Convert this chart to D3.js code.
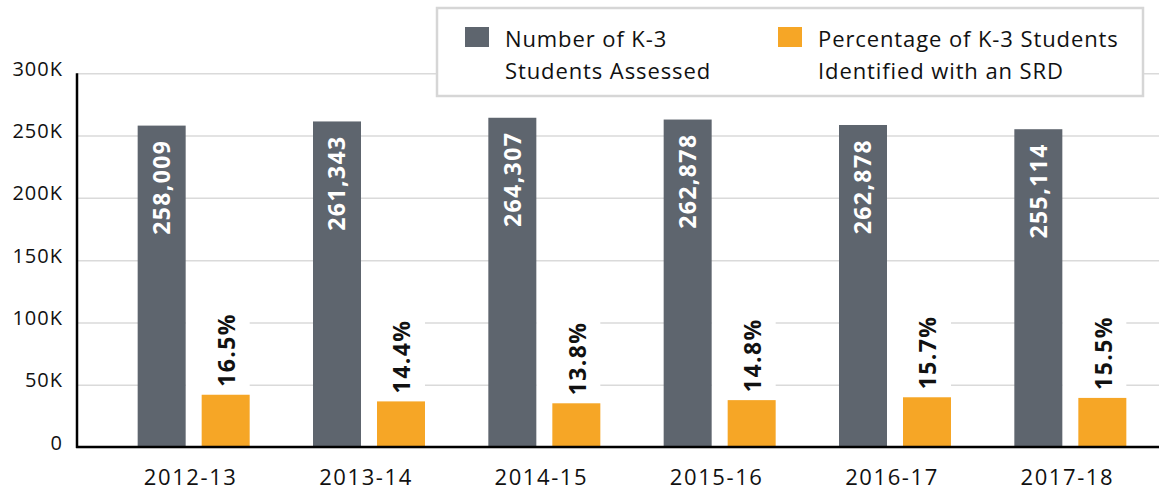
<!DOCTYPE html>
<html>
<head>
<meta charset="utf-8">
<script src="https://cdn.jsdelivr.net/npm/d3@7"></script>
<style>
  body { margin: 0; background: #fff; }
  svg { display: block; font-family: "Open Sans", "Noto Sans", sans-serif; }
</style>
</head>
<body>
<svg width="1159" height="491"></svg>
<script>
const years = ["2012-13", "2013-14", "2014-15", "2015-16", "2016-17", "2017-18"]
// bar heights as drawn; the 2016-17 bar is shorter than its printed label
const assessed = [258009, 261343, 264307, 262878, 258500, 255114]
const assessedLabels = ["258,009", "261,343", "264,307", "262,878", "262,878", "255,114"]
const pctSRD = [16.5, 14.4, 13.8, 14.8, 15.7, 15.5]
const yTicks = [0, 50000, 100000, 150000, 200000, 250000, 300000]
const legendLabels = [
    ["Number of K-3", "Students Assessed"],
    ["Percentage of K-3 Students", "Identified with an SRD"]
]

const GREY = "#5e656e", ORANGE = "#f6a626";

const svg = d3.select("svg"),
    width = +svg.attr("width"),
    height = +svg.attr("height");

const left = 77, baseY = 447, topY = 73.3;

const x0 = d3.scaleBand().domain(years).range([106, 1158]).padding(0);
const x1 = d3.scaleBand().domain(["n", "p"]).range([0, 112]).paddingInner(0.25);
const y = d3.scaleLinear().domain([0, 300000]).range([baseY, topY]);
// percentage bars share the plot area, 1% ~ 2540 students on the left axis
const yPct = d3.scaleLinear().domain([0, 118]).range([baseY, topY]);

// gridlines + y labels
const gy = svg.append("g")
    .attr("transform", `translate(${left},0)`)
    .call(d3.axisLeft(y).tickValues(yTicks).tickSize(-(width - left))
        .tickPadding(14)
        .tickFormat(d => d === 0 ? "0" : d / 1000 + "K"));
gy.select(".domain").remove();
gy.selectAll(".tick line").attr("stroke", "#dadada").attr("stroke-width", 1.5);
gy.selectAll(".tick text")
    .attr("font-family", "Open Sans, sans-serif")
    .attr("font-size", 20)
    .attr("letter-spacing", 1)
    .attr("dy", "0.1em")
    .attr("fill", "#111");

const groups = svg.append("g").selectAll("g")
    .data(years.map((yr, i) => ({yr, n: assessed[i], lab: assessedLabels[i], p: pctSRD[i]})))
    .join("g")
    .attr("transform", d => `translate(${x0(d.yr) + (x0.bandwidth() - 112) / 2},0)`);

// white box behind percentage labels (hides gridlines)
groups.append("rect")
    .attr("x", x1("n") + x1.bandwidth())
    .attr("width", x1("p") - x1("n"))
    .attr("y", d => yPct(d.p) - 86)
    .attr("height", 84)
    .attr("fill", "#fff");

groups.append("rect")
    .attr("x", x1("n"))
    .attr("width", x1.bandwidth())
    .attr("y", d => y(d.n))
    .attr("height", d => baseY - y(d.n))
    .attr("fill", GREY);

groups.append("rect")
    .attr("x", x1("p"))
    .attr("width", x1.bandwidth())
    .attr("y", d => yPct(d.p))
    .attr("height", d => baseY - yPct(d.p))
    .attr("fill", ORANGE);

groups.append("text")
    .attr("transform", d => `translate(${x1("n") + x1.bandwidth() / 2},${y(d.n) + 14}) rotate(-90)`)
    .attr("text-anchor", "end")
    .attr("dy", "0.36em")
    .attr("font-size", 23)
    .attr("font-weight", 700)
    .attr("letter-spacing", 1.4)
    .attr("fill", "#fff")
    .text(d => d.lab);

groups.append("text")
    .attr("transform", d => `translate(${x1("p") + x1.bandwidth() / 2 + 1},${yPct(d.p) - 8}) rotate(-90)`)
    .attr("text-anchor", "start")
    .attr("dy", "0.36em")
    .attr("font-size", 23)
    .attr("font-weight", 700)
    .attr("letter-spacing", 1.4)
    .attr("fill", "#111")
    .text(d => d.p.toFixed(1) + "%");

// x labels
const gx = svg.append("g")
    .attr("transform", `translate(-3,${baseY})`)
    .call(d3.axisBottom(x0).tickSize(0).tickPadding(22));
gx.select(".domain").remove();
gx.selectAll(".tick text")
    .attr("font-family", "Open Sans, sans-serif")
    .attr("font-size", 22)
    .attr("letter-spacing", 1.6)
    .attr("fill", "#111");

// axis lines
svg.append("line").attr("x1", left).attr("x2", left).attr("y1", topY).attr("y2", baseY + 1)
    .attr("stroke", "#000").attr("stroke-width", 2.5);
svg.append("line").attr("x1", left - 1).attr("x2", width).attr("y1", baseY).attr("y2", baseY)
    .attr("stroke", "#000").attr("stroke-width", 2.5);

// legend
const leg = svg.append("g");
leg.append("rect").attr("x", 437).attr("y", 8).attr("width", 706).attr("height", 88)
    .attr("fill", "#fff").attr("stroke", "#d6d6d6").attr("stroke-width", 2.5);
const items = leg.selectAll("g.item").data(legendLabels).join("g")
    .attr("class", "item")
    .attr("transform", (d, i) => `translate(${i ? 778 : 465},27)`);
items.append("rect").attr("width", 24).attr("height", 20)
    .attr("fill", (d, i) => i ? ORANGE : GREY);
items.append("text")
    .attr("font-size", 22)
    .attr("letter-spacing", 0.9)
    .attr("fill", "#111")
    .selectAll("tspan").data(d => d).join("tspan")
    .attr("x", 40)
    .attr("y", (d, i) => 20 + i * 32)
    .text(d => d);
</script>
</body>
</html>
